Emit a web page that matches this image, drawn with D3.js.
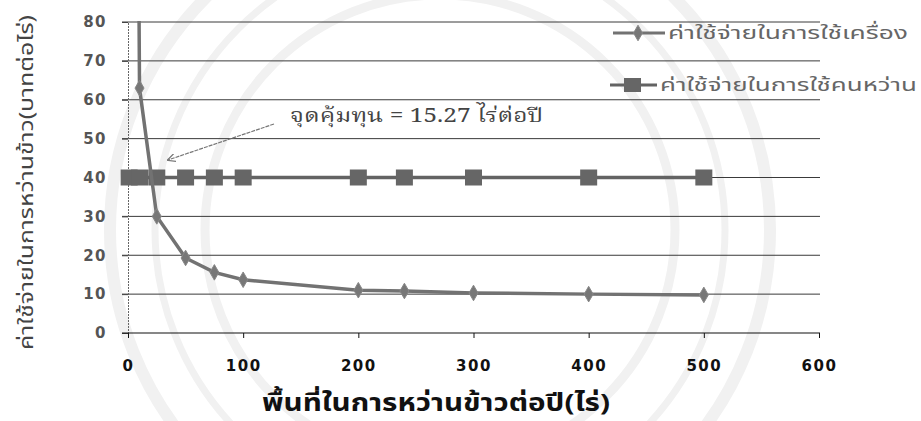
<!DOCTYPE html>
<html>
<head>
<meta charset="utf-8">
<script src="https://cdn.jsdelivr.net/npm/d3@7"></script>
<style>
  html, body { margin: 0; padding: 0; background: #fff; }
  svg { display: block; }
</style>
</head>
<body>
<svg id="chart" width="921" height="421"></svg>
<script>
// Cost per rai of broadcasting rice, by area broadcast per year
const areaRai     = [1, 10, 25, 50, 75, 100, 200, 240, 300, 400, 500];
const machineCost = [480, 63, 30, 19.3, 15.6, 13.7, 11.0, 10.8, 10.3, 10.0, 9.8];
const manualCost  = [40, 40, 40, 40, 40, 40, 40, 40, 40, 40, 40];
const xTicks = [0, 100, 200, 300, 400, 500, 600];
const yTicks = [0, 10, 20, 30, 40, 50, 60, 70, 80];
const seriesNames = ["ค่าใช้จ่ายในการใช้เครื่อง", "ค่าใช้จ่ายในการใช้คนหว่าน"];
const breakEven = 15.27;
const xTitle = "พื้นที่ในการหว่านข้าวต่อปี(ไร่)";
const yTitle = "ค่าใช้จ่ายในการหว่านข้าว(บาทต่อไร่)";

const svg = d3.select("#chart");
const x = d3.scaleLinear().domain([0, 600]).range([128, 819]);
const y = d3.scaleLinear().domain([0, 80]).range([333, 22]);

const thai = "'Noto Sans Thai','Noto Sans Thai UI','Loma','Garuda','Tlwg Typo','Norasi','Tahoma','Noto Sans',sans-serif";
const thaiSerif = "'Noto Serif Thai','Norasi','Kinnari','Noto Sans Thai','Loma',serif";

// faint background seal
const seal = svg.append("g").attr("fill", "none").attr("stroke", "#f1f1f1");
[[440, 230, 330, 12], [440, 230, 285, 7], [440, 230, 235, 9]].forEach(([cx, cy, r, w]) => {
  seal.append("circle").attr("cx", cx).attr("cy", cy).attr("r", r).attr("stroke-width", w);
});

// horizontal gridlines
svg.append("g")
  .selectAll("line").data(yTicks.filter(d => d > 0)).join("line")
  .attr("x1", 122).attr("x2", 820)
  .attr("y1", d => y(d)).attr("y2", d => y(d))
  .attr("stroke", "#3a3a3a").attr("stroke-width", 1);

// y axis
const yAxis = d3.axisLeft(y).tickValues(yTicks).tickSize(6).tickPadding(15);
const gy = svg.append("g").attr("transform", "translate(128,0)").call(yAxis);
gy.select(".domain").attr("stroke", "#666").attr("stroke-dasharray", "2,1");
gy.selectAll(".tick line").attr("stroke", "#444");
gy.selectAll("text")
  .attr("font-family", "'DejaVu Sans', Verdana, sans-serif")
  .attr("font-weight", "bold").attr("font-size", 15).attr("letter-spacing", 1.5)
  .attr("fill", "#555");

// x axis
const xAxis = d3.axisBottom(x).tickValues(xTicks).tickSize(5).tickSizeOuter(0).tickPadding(22);
const gx = svg.append("g").attr("transform", "translate(0,333)").call(xAxis);
gx.select(".domain").attr("stroke", "#111").attr("stroke-width", 1.2).attr("d", "M122,0H820");
gx.selectAll(".tick line").attr("stroke", "#111");
gx.selectAll("text")
  .attr("font-family", "'DejaVu Sans', Verdana, sans-serif")
  .attr("font-weight", "bold").attr("font-size", 15).attr("letter-spacing", 1.5)
  .attr("fill", "#111");

// plot clip
svg.append("clipPath").attr("id", "plotClip")
  .append("rect").attr("x", 110).attr("y", 21).attr("width", 720).attr("height", 330);

const plot = svg.append("g").attr("clip-path", "url(#plotClip)");
const line = d3.line().x(d => x(d[0])).y(d => y(d[1]));
const machinePts = d3.zip(areaRai, machineCost);
const manualPts = d3.zip(areaRai, manualCost);

// manual broadcasting series (squares)
plot.append("path").datum(manualPts).attr("d", line)
  .attr("fill", "none").attr("stroke", "#636363").attr("stroke-width", 3.5);
plot.append("g").selectAll("rect").data(manualPts).join("rect")
  .attr("x", d => x(d[0]) - 8.5).attr("y", d => y(d[1]) - 8)
  .attr("width", 17).attr("height", 16).attr("fill", "#666");

// machine series (diamonds)
plot.append("path").datum(machinePts).attr("d", line)
  .attr("fill", "none").attr("stroke", "#727272").attr("stroke-width", 3.5);
const diamond = d3.symbol().type(d3.symbolDiamond).size(70);
plot.append("g").selectAll("path").data(machinePts).join("path")
  .attr("transform", d => `translate(${x(d[0])},${y(d[1])})`)
  .attr("d", diamond).attr("fill", "#777").attr("stroke", "#888").attr("stroke-width", 1);

// break-even annotation
svg.append("defs").append("marker")
  .attr("id", "arrowHead").attr("viewBox", "0 0 10 10").attr("refX", 9).attr("refY", 5)
  .attr("markerWidth", 7).attr("markerHeight", 7).attr("orient", "auto")
  .append("path").attr("d", "M0,0L10,5L0,10").attr("fill", "none").attr("stroke", "#777").attr("stroke-width", 1.5);
svg.append("line")
  .attr("x1", 274).attr("y1", 124).attr("x2", 168).attr("y2", 160)
  .attr("stroke", "#777").attr("stroke-width", 1.2).attr("stroke-dasharray", "4,1")
  .attr("marker-end", "url(#arrowHead)");
svg.append("text")
  .attr("x", 290).attr("y", 122)
  .attr("font-family", thaiSerif).attr("font-size", 19).attr("fill", "#444")
  .attr("textLength", 253).attr("lengthAdjust", "spacingAndGlyphs")
  .text(`จุดคุ้มทุน = ${breakEven} ไร่ต่อปี`);

// legend
const legend = svg.append("g");
const legY = [33, 85];
legend.append("line").attr("x1", 613).attr("x2", 665).attr("y1", legY[0]).attr("y2", legY[0])
  .attr("stroke", "#727272").attr("stroke-width", 3);
legend.append("path").attr("transform", `translate(638,${legY[0]})`).attr("d", diamond)
  .attr("fill", "#777").attr("stroke", "#888");
legend.append("line").attr("x1", 610).attr("x2", 657).attr("y1", legY[1]).attr("y2", legY[1])
  .attr("stroke", "#636363").attr("stroke-width", 3);
legend.append("rect").attr("x", 624).attr("y", legY[1] - 7).attr("width", 17).attr("height", 14)
  .attr("fill", "#666");
legend.selectAll("text").data(seriesNames).join("text")
  .attr("x", (d, i) => i === 0 ? 668 : 660)
  .attr("y", (d, i) => legY[i] + 6)
  .attr("font-family", thai).attr("font-size", 18).attr("fill", "#666")
  .attr("textLength", (d, i) => i === 0 ? 240 : 257).attr("lengthAdjust", "spacingAndGlyphs")
  .text(d => d);

// axis titles
svg.append("text")
  .attr("x", 262).attr("y", 411)
  .attr("font-family", thai).attr("font-weight", "bold").attr("font-size", 24).attr("fill", "#111")
  .attr("textLength", 348).attr("lengthAdjust", "spacingAndGlyphs")
  .text(xTitle);
svg.append("text")
  .attr("transform", "translate(33,350) rotate(-90)")
  .attr("font-family", thai).attr("font-size", 20).attr("fill", "#444")
  .attr("textLength", 335).attr("lengthAdjust", "spacingAndGlyphs")
  .text(yTitle);
</script>
</body>
</html>
